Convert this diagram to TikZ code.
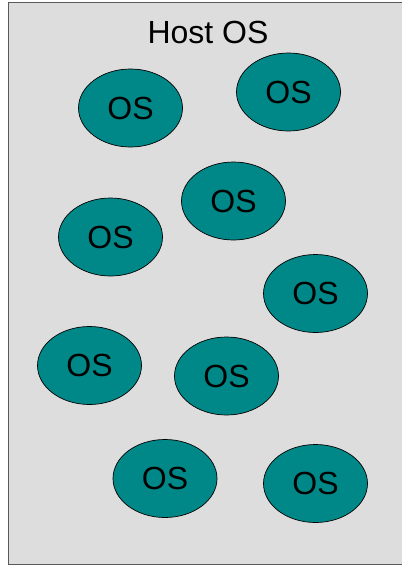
\documentclass[tikz,border=0pt]{standalone}
\usepackage{fontspec}
\setmainfont{Liberation Sans}
\usetikzlibrary{shapes.geometric}
\definecolor{hostgray}{HTML}{DDDDDD}
\definecolor{osteal}{HTML}{008888}
\begin{document}
\begin{tikzpicture}[
  x=1pt, y=-1pt,
  every node/.style={font=\fontsize{32}{38}\selectfont, align=center},
  host/.style={draw=black!65, fill=hostgray, line width=0.8pt},
  vm/.style={ellipse, draw=black, fill=osteal, line width=0.7pt, minimum width=104pt, minimum height=78pt, inner sep=0pt}
]
\useasboundingbox (0,0) rectangle (402,566);
\draw[host] (8.5,2.5) rectangle (406,564.5);
\node (host) at (208,32) {Host OS};
\node[vm] (os1) at (130.5,108) {OS};
\node[vm] (os2) at (288.5,92) {OS};
\node[vm] (os3) at (233.5,201) {OS};
\node[vm] (os4) at (110.5,237) {OS};
\node[vm] (os5) at (315.5,293.5) {OS};
\node[vm] (os6) at (89.5,365.5) {OS};
\node[vm] (os7) at (226.5,376) {OS};
\node[vm] (os8) at (165,478.5) {OS};
\node[vm] (os9) at (315.5,483.5) {OS};
\end{tikzpicture}
\end{document}
